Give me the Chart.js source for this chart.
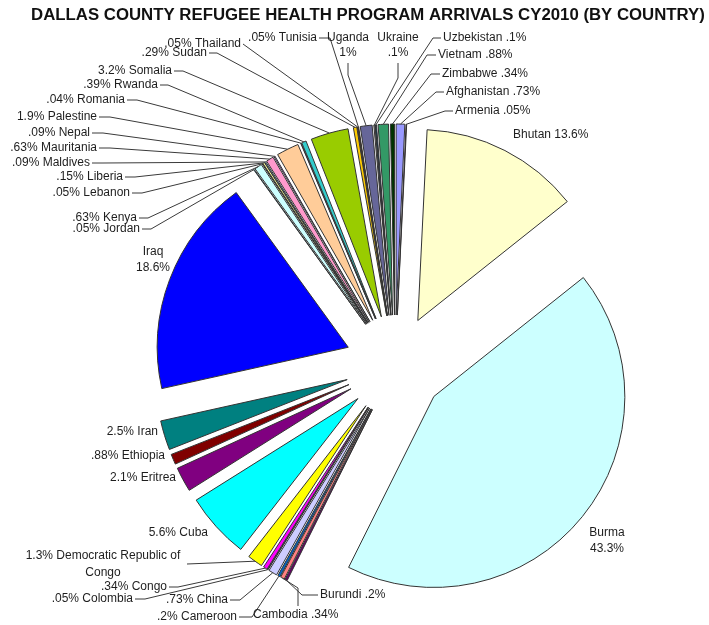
<!DOCTYPE html>
<html>
<head>
<meta charset="utf-8">
<title>Dallas County Refugee Health Program Arrivals CY2010</title>
<script src="https://cdn.jsdelivr.net/npm/chart.js@4/dist/chart.umd.min.js"></script>
<style>
  html, body { margin: 0; padding: 0; background: #fff; }
  canvas { display: block; }
</style>
</head>
<body>
<canvas id="arrivals" width="709" height="625"></canvas>
<script>
"use strict";

const title = "DALLAS COUNTY REFUGEE HEALTH PROGRAM ARRIVALS CY2010 (BY COUNTRY)";

const countries = [
  "Afghanistan", "Armenia", "Bhutan", "Burma", "Burundi", "Cambodia", "Cameroon",
  "China", "Colombia", "Congo", "Democratic Republic of Congo", "Cuba", "Eritrea",
  "Ethiopia", "Iran", "Iraq", "Jordan", "Kenya", "Lebanon", "Liberia", "Maldives",
  "Mauritania", "Nepal", "Palestine", "Romania", "Rwanda", "Somalia", "Sudan",
  "Thailand", "Tunisia", "Uganda", "Ukraine", "Uzbekistan", "Vietnam", "Zimbabwe"
];

// percent of arrivals
const shares = [
  0.73, 0.05, 13.6, 43.3, 0.2, 0.34, 0.2,
  0.73, 0.05, 0.34, 1.3, 5.6, 2.1,
  0.88, 2.5, 18.6, 0.05, 0.63, 0.05, 0.15, 0.09,
  0.63, 0.09, 1.9, 0.04, 0.39, 3.2, 0.29,
  0.05, 0.05, 1, 0.1, 0.1, 0.88, 0.34
];

// old office palette, one per slice
const sliceColors = [
  "#9999FF", "#993366", "#FFFFCC", "#CCFFFF", "#660066", "#FF8080", "#0066CC",
  "#CCCCFF", "#000080", "#FF00FF", "#FFFF00", "#00FFFF", "#800080",
  "#800000", "#008080", "#0000FF", "#00CCFF", "#CCFFFF", "#CCFFCC", "#FFFF99", "#99CCFF",
  "#FF99CC", "#CC99FF", "#FFCC99", "#3366FF", "#33CCCC", "#99CC00", "#FFCC00",
  "#FF9900", "#FF6600", "#666699", "#969696", "#003366", "#339966", "#003300"
];

// where each label sits; lead = fixed part of the leader line, it then runs to the slice
const labelLayout = {
  "Afghanistan": { x: 446, y: [92], align: "left", tpl: ["{n} {p}"], lead: [[444, 92], [436, 92]] },
  "Armenia": { x: 455, y: [111], align: "left", tpl: ["{n} {p}"], lead: [[453, 111], [445, 111]] },
  "Bhutan": { x: 513, y: [135], align: "left", tpl: ["{n} {p}"] },
  "Burma": { x: 607, y: [533, 549], align: "center", tpl: ["{n}", "{p}"] },
  "Burundi": { x: 320, y: [595], align: "left", tpl: ["{n} {p}"], lead: [[318, 595], [302, 595]] },
  "Cambodia": { x: 253, y: [615], align: "left", tpl: ["{n} {p}"], lead: [[298, 606], [298, 588]] },
  "Cameroon": { x: 237, y: [617], align: "right", tpl: ["{p} {n}"], lead: [[239, 617], [252, 617]] },
  "China": { x: 228, y: [600], align: "right", tpl: ["{p} {n}"], lead: [[230, 600], [240, 600]] },
  "Colombia": { x: 133, y: [599], align: "right", tpl: ["{p} {n}"], lead: [[135, 599], [145, 599]] },
  "Congo": { x: 167, y: [587], align: "right", tpl: ["{p} {n}"], lead: [[169, 587], [178, 587]] },
  "Democratic Republic of Congo": { x: 103, y: [556, 573], align: "center", tpl: ["{p} Democratic Republic of", "Congo"], lead: [[187, 564]] },
  "Cuba": { x: 208, y: [533], align: "right", tpl: ["{p} {n}"] },
  "Eritrea": { x: 176, y: [478], align: "right", tpl: ["{p} {n}"] },
  "Ethiopia": { x: 165, y: [456], align: "right", tpl: ["{p} {n}"] },
  "Iran": { x: 158, y: [432], align: "right", tpl: ["{p} {n}"] },
  "Iraq": { x: 153, y: [252, 268], align: "center", tpl: ["{n}", "{p}"] },
  "Jordan": { x: 140, y: [229], align: "right", tpl: ["{p} {n}"], lead: [[142, 229], [151, 229]] },
  "Kenya": { x: 137, y: [218], align: "right", tpl: ["{p} {n}"], lead: [[139, 218], [148, 218]] },
  "Lebanon": { x: 130, y: [193], align: "right", tpl: ["{p} {n}"], lead: [[132, 193], [142, 193]] },
  "Liberia": { x: 123, y: [177], align: "right", tpl: ["{p} {n}"], lead: [[125, 177], [135, 177]] },
  "Maldives": { x: 90, y: [163], align: "right", tpl: ["{p} {n}"], lead: [[92, 163], [103, 163]] },
  "Mauritania": { x: 97, y: [148], align: "right", tpl: ["{p} {n}"], lead: [[99, 148], [110, 148]] },
  "Nepal": { x: 90, y: [133], align: "right", tpl: ["{p} {n}"], lead: [[92, 133], [103, 133]] },
  "Palestine": { x: 97, y: [117], align: "right", tpl: ["{p} {n}"], lead: [[99, 117], [110, 117]] },
  "Romania": { x: 125, y: [100], align: "right", tpl: ["{p} {n}"], lead: [[127, 100], [137, 100]] },
  "Rwanda": { x: 158, y: [85], align: "right", tpl: ["{p} {n}"], lead: [[160, 85], [168, 85]] },
  "Somalia": { x: 172, y: [71], align: "right", tpl: ["{p} {n}"], lead: [[174, 71], [183, 71]] },
  "Sudan": { x: 207, y: [53], align: "right", tpl: ["{p} {n}"], lead: [[209, 53], [217, 53]] },
  "Thailand": { x: 241, y: [44], align: "right", tpl: ["{p} {n}"], lead: [[243, 44]] },
  "Tunisia": { x: 317, y: [38], align: "right", tpl: ["{p} {n}"], lead: [[319, 38], [330, 38]] },
  "Uganda": { x: 348, y: [38, 53], align: "center", tpl: ["{n}", "{p}"], lead: [[348, 63], [348, 75]] },
  "Ukraine": { x: 398, y: [38, 53], align: "center", tpl: ["{n}", "{p}"], lead: [[398, 63], [398, 78]] },
  "Uzbekistan": { x: 443, y: [38], align: "left", tpl: ["{n} {p}"], lead: [[441, 38], [433, 38]] },
  "Vietnam": { x: 438, y: [55], align: "left", tpl: ["{n} {p}"], lead: [[436, 55], [427, 55]] },
  "Zimbabwe": { x: 442, y: [74], align: "left", tpl: ["{n} {p}"], lead: [[440, 74], [431, 74]] }
};

const FONT = "'Liberation Sans', Arial, sans-serif";
const EXPLODE = 50; // every slice is pulled out this far from the centre, px

// ".05%", "1%", "13.6%"
function pct(v) {
  return String(v).replace(/^0\./, ".") + "%";
}

// push each arc out along its own bisector (Chart.js offset also grows the radius)
const explodePlugin = {
  id: "explode",
  afterDatasetUpdate(chart, args) {
    chart.getDatasetMeta(args.index).data.forEach((arc) => {
      const mid = (arc.startAngle + arc.endAngle) / 2;
      arc.x += Math.cos(mid) * EXPLODE;
      arc.y += Math.sin(mid) * EXPLODE;
    });
  }
};

function sliceTip(arc) {
  const p = arc.getProps(["x", "y", "startAngle", "endAngle", "outerRadius"], true);
  const mid = (p.startAngle + p.endAngle) / 2;
  return [p.x + Math.cos(mid) * p.outerRadius, p.y + Math.sin(mid) * p.outerRadius];
}

const calloutPlugin = {
  id: "callouts",
  afterDatasetsDraw(chart) {
    const ctx = chart.ctx;
    const arcs = chart.getDatasetMeta(0).data;
    ctx.save();

    // leader lines
    ctx.strokeStyle = "#3a3a3a";
    ctx.lineWidth = 1;
    countries.forEach((name, i) => {
      const lay = labelLayout[name];
      if (!lay || !lay.lead) return;
      const tip = sliceTip(arcs[i]);
      ctx.beginPath();
      lay.lead.forEach(([x, y], k) => (k ? ctx.lineTo(x, y) : ctx.moveTo(x, y)));
      ctx.lineTo(tip[0], tip[1]);
      ctx.stroke();
    });

    // labels
    ctx.fillStyle = "#1e1e1e";
    ctx.font = "12px " + FONT;
    ctx.textBaseline = "middle";
    countries.forEach((name, i) => {
      const lay = labelLayout[name];
      if (!lay) return;
      ctx.textAlign = lay.align;
      lay.tpl.forEach((t, k) => {
        const text = t.replace("{n}", name).replace("{p}", pct(shares[i]));
        ctx.fillText(text, lay.x, lay.y[k]);
      });
    });

    // heading
    ctx.fillStyle = "#111";
    ctx.font = "bold 16.8px " + FONT;
    ctx.textAlign = "center";
    ctx.fillText(title, 368, 15);
    ctx.restore();
  }
};

new Chart(document.getElementById("arrivals"), {
  type: "pie",
  data: {
    labels: countries,
    datasets: [
      {
        data: shares,
        backgroundColor: sliceColors,
        borderColor: "#333",
        borderWidth: 1,
        hoverOffset: 0
      }
    ]
  },
  options: {
    responsive: false,
    animation: false,
    radius: 191,
    layout: {
      padding: { left: 81, right: 0, top: 105, bottom: 0 }
    },
    plugins: {
      legend: { display: false },
      title: { display: false },
      tooltip: { enabled: false }
    }
  },
  plugins: [explodePlugin, calloutPlugin]
});
</script>
</body>
</html>
